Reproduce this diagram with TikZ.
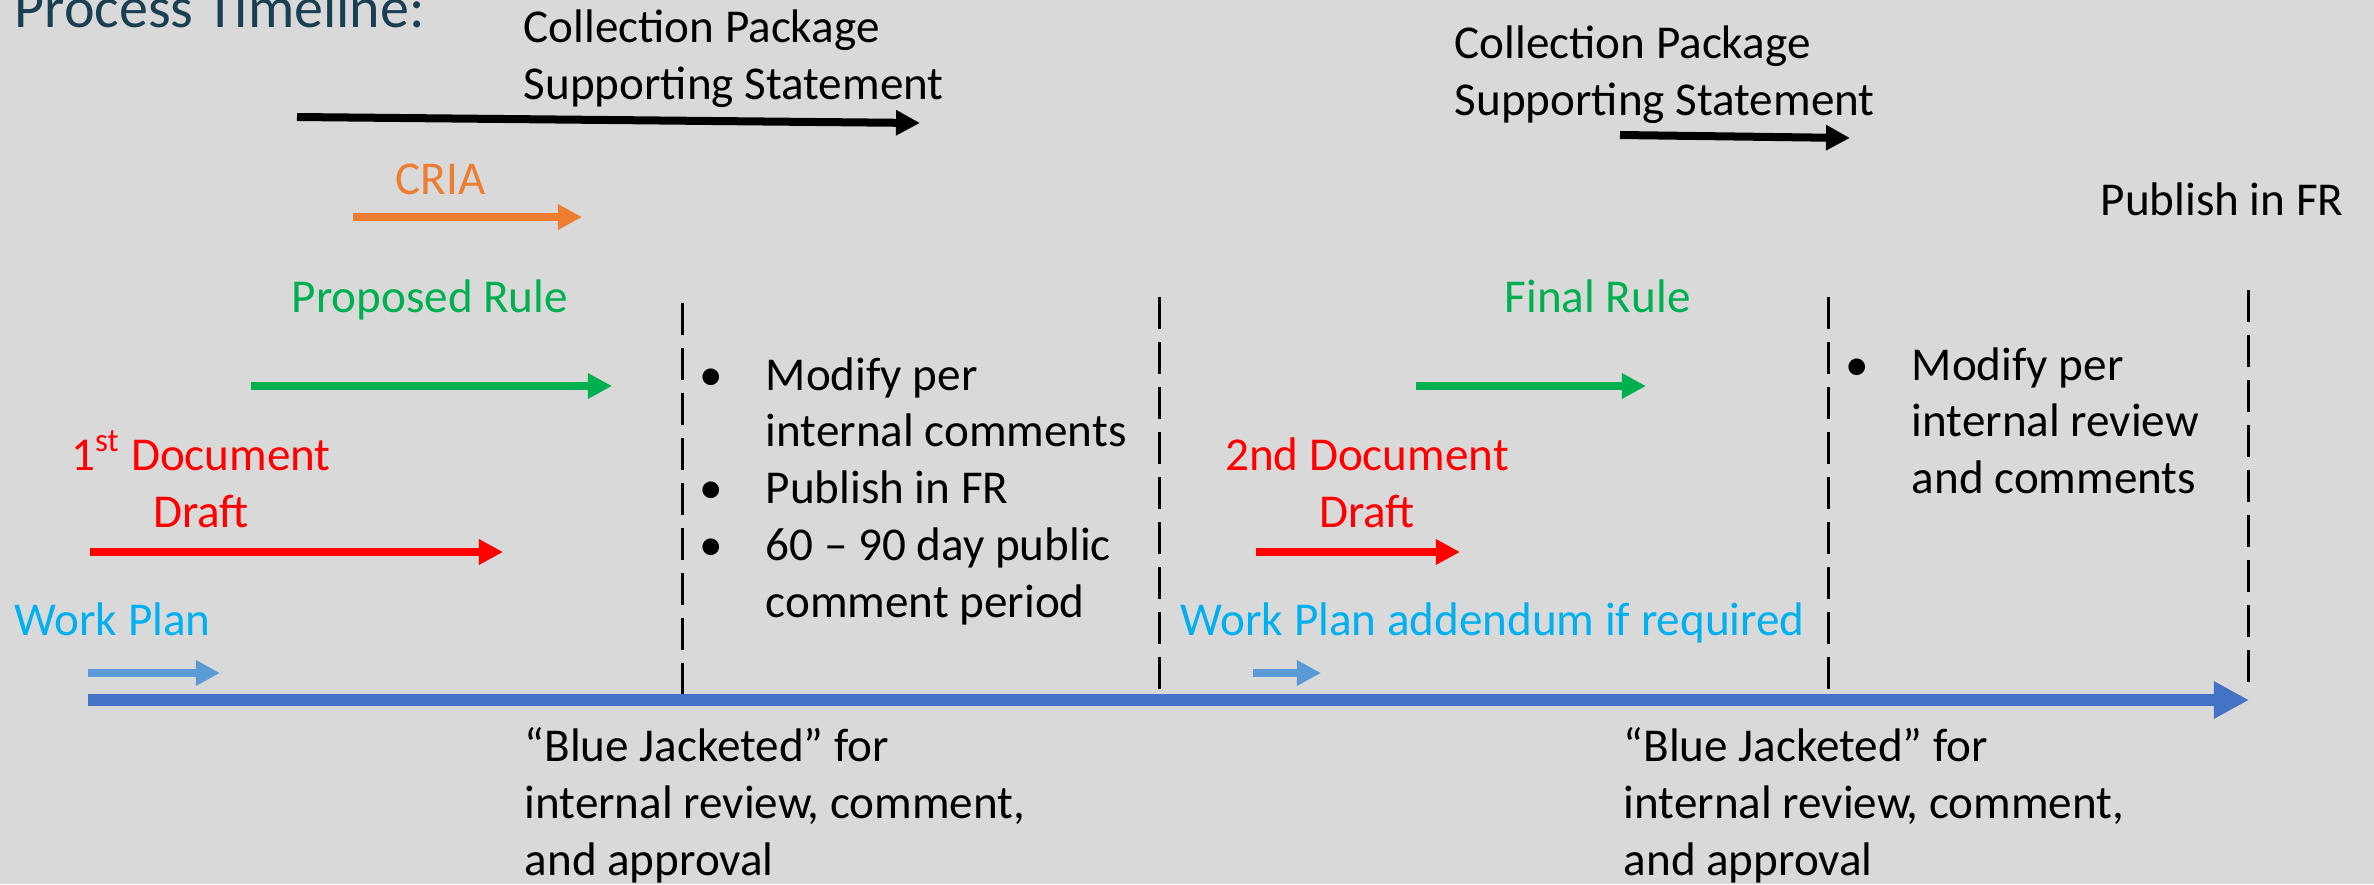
\documentclass[tikz,border=0pt]{standalone}
\usepackage{fontspec}
\setmainfont{Carlito}
\usetikzlibrary{arrows.meta}
\definecolor{slide}{HTML}{D9D9D9}
\definecolor{heading}{HTML}{1B3F52}
\definecolor{cria}{HTML}{ED7D31}
\definecolor{rule}{HTML}{00B050}
\definecolor{draft}{HTML}{FF0000}
\definecolor{plan}{HTML}{00B0F0}
\definecolor{planarrow}{HTML}{5B9BD5}
\definecolor{axis}{HTML}{4472C4}
\newcommand{\txt}{\fontsize{13.4}{16.2}\selectfont}
\begin{document}
\begin{tikzpicture}[x=0.01cm,y=-0.01cm,
	lbl/.style={inner sep=0pt,anchor=base west,font=\txt,align=left},
	mid/.style={inner sep=0pt,anchor=base,font=\txt,align=center},
	fat/.style={line width=0.08cm,-{Triangle[length=0.24cm,width=0.24cm]}},
	sep/.style={line width=0.03cm,dash pattern=on 0.32cm off 0.13cm}]
	\fill[slide] (0,0) rectangle (2374,884);
	\useasboundingbox (0,0) rectangle (2374,884);
	% labels (multi-line ones sit on their last line)
	\node[lbl,font=\fontsize{16.5}{20}\selectfont,text=heading] (title) at (14,27) {Process Timeline:};
	\node[lbl] (pkg1) at (523,99) {Collection Package\\Supporting Statement};
	\node[lbl] (pkg2) at (1454,115) {Collection Package\\Supporting Statement};
	\node[lbl,text=cria] (cria) at (395,194) {CRIA};
	\node[lbl] (fr) at (2100,215) {Publish in FR};
	\node[lbl,text=rule] (prop) at (291,312) {Proposed Rule};
	\node[lbl,text=rule] (final) at (1504,312) {Final Rule};
	\node[mid,text=draft] (doc1) at (201,527) {1\textsuperscript{st} Document\\Draft};
	\node[mid,text=draft] (doc2) at (1367,527) {2nd Document\\Draft};
	\node[lbl,text=plan] (wp1) at (14,635) {Work Plan};
	\node[lbl,text=plan] (wp2) at (1180,635) {Work Plan addendum if required};
	\node[lbl] (list1) at (699,390) {\begin{tabular}[t]{@{}p{0.66cm}@{}l@{}}
		•&Modify per\\&internal comments\\•&Publish in FR\\•&60 – 90 day public\\&comment period\end{tabular}};
	\node[lbl] (list2) at (1845,380) {\begin{tabular}[t]{@{}p{0.66cm}@{}l@{}}
		•&Modify per\\&internal review\\&and comments\end{tabular}};
	\node[lbl] (bj1) at (524,875) {“Blue Jacketed” for\\internal review, comment,\\and approval};
	\node[lbl] (bj2) at (1623,875) {“Blue Jacketed” for\\internal review, comment,\\and approval};
	% arrows
	\draw[fat] (297,117) -- (920,123);
	\draw[fat] (1620,135) -- (1850,138);
	\draw[fat,cria] (353,217) -- (582,217);
	\draw[fat,rule] (251,386) -- (612,386);
	\draw[fat,rule] (1416,386) -- (1646,386);
	\draw[fat,draft] (90,552) -- (503,552);
	\draw[fat,draft] (1256,552) -- (1460,552);
	\draw[fat,planarrow] (88,673) -- (220,673);
	\draw[fat,planarrow] (1253,673) -- (1321,673);
	\foreach \x/\t/\b in {682/303/707,1159/297/700,1828/297/700,2248/290/693}{
		\draw[sep] (\x,\t) -- (\x,\b);
	}
	\draw[axis,line width=0.12cm,-{Triangle[length=0.35cm,width=0.35cm]}] (88,700) -- (2249,700);
\end{tikzpicture}
\end{document}
